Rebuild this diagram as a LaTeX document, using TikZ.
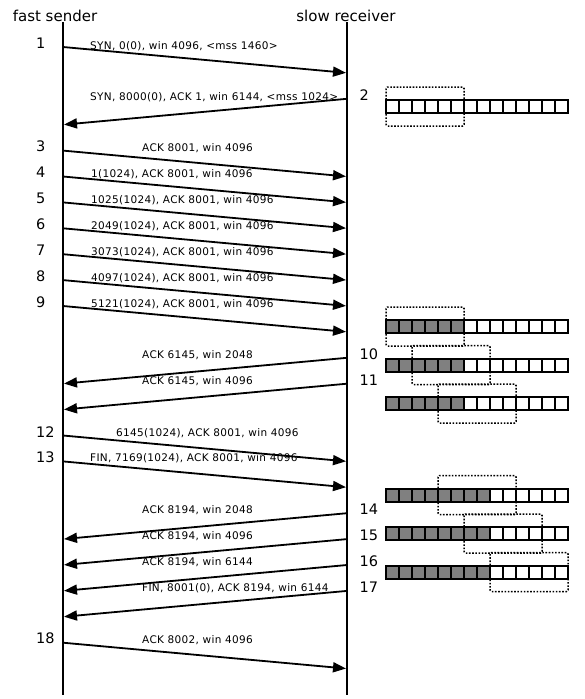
\documentclass[tikz,border=0pt]{standalone}
\usepackage{fontspec}
\setmainfont{DejaVu Sans}
\newfontfamily\msgfont[LetterSpace=3]{DejaVu Sans}
\usetikzlibrary{arrows.meta,calc}

\begin{document}
\begin{tikzpicture}[x=1pt,y=-1pt,
    lifeline/.style={line width=1.8pt},
    msg/.style={line width=1.8pt,shorten >=1pt,-{Triangle[length=13pt,width=10pt]}},
    msglabel/.style={font=\msgfont\fontsize{10.5}{12}\selectfont,inner sep=0pt,anchor=west},
    stepnum/.style={font=\fontsize{14.5}{17}\selectfont,inner sep=0pt,anchor=west},
    head/.style={font=\fontsize{15}{18}\selectfont,inner sep=0pt},
    cell/.style={draw,line width=1.5pt},
    window/.style={draw,line width=1.5pt,rounded corners=1.5pt,dash pattern=on 1.6pt off 1.6pt}]
  \useasboundingbox (0,0) rectangle (584,699);

  % headers
  \node[head] (sender) at (55,16) {fast sender};
  \node[head] (receiver) at (346,16) {slow receiver};

  % lifelines
  \coordinate (stop) at (63,22);
  \coordinate (sbot) at (63,695);
  \coordinate (rtop) at (347,22);
  \coordinate (rbot) at (347,695);
  \draw[lifeline] (stop) -- (sbot);
  \draw[lifeline] (rtop) -- (rbot);

  % time steps on both lifelines
  \foreach \t in {0,...,24} {
    \coordinate (S\t) at (63,{47+25.9*\t});
    \coordinate (R\t) at (347,{47+25.9*\t});
  }

  % connection setup
  \draw[msg] (S0) -- (R1);
  \node[msglabel] (m1) at (90,46) {SYN, 0(0), win 4096, <mss 1460>};
  \node[stepnum] (n1) at (36,43) {1};
  \draw[msg] (R2) -- (S3);
  \node[msglabel] (m2) at (90,97.5) {SYN, 8000(0), ACK 1, win 6144, <mss 1024>};
  \node[stepnum] (n2) at (359.5,95) {2};
  \draw[msg] (S4) -- (R5);
  \node[msglabel] (m3) at (142,148) {ACK 8001, win 4096};
  \node[stepnum] (n3) at (36,146.5) {3};

  % data segments
  \draw[msg] (S5) -- (R6);
  \node[msglabel] (m4) at (91,174) {1(1024), ACK 8001, win 4096};
  \node[stepnum] (n4) at (36,172.5) {4};
  \draw[msg] (S6) -- (R7);
  \node[msglabel] (m5) at (91,200) {1025(1024), ACK 8001, win 4096};
  \node[stepnum] (n5) at (36,198.5) {5};
  \draw[msg] (S7) -- (R8);
  \node[msglabel] (m6) at (91,226) {2049(1024), ACK 8001, win 4096};
  \node[stepnum] (n6) at (36,224.5) {6};
  \draw[msg] (S8) -- (R9);
  \node[msglabel] (m7) at (91,252) {3073(1024), ACK 8001, win 4096};
  \node[stepnum] (n7) at (36,250) {7};
  \draw[msg] (S9) -- (R10);
  \node[msglabel] (m8) at (91,278) {4097(1024), ACK 8001, win 4096};
  \node[stepnum] (n8) at (36,276) {8};
  \draw[msg] (S10) -- (R11);
  \node[msglabel] (m9) at (91,304) {5121(1024), ACK 8001, win 4096};
  \node[stepnum] (n9) at (36,302) {9};

  % window updates
  \draw[msg] (R12) -- (S13);
  \node[msglabel] (m10) at (142,355) {ACK 6145, win 2048};
  \node[stepnum] (n10) at (359.5,354) {10};
  \draw[msg] (R13) -- (S14);
  \node[msglabel] (m11) at (142,381.5) {ACK 6145, win 4096};
  \node[stepnum] (n11) at (359.5,380) {11};

  % last segments
  \draw[msg] (S15) -- (R16);
  \node[msglabel] (m12) at (116,433) {6145(1024), ACK 8001, win 4096};
  \node[stepnum] (n12) at (36,432) {12};
  \draw[msg] (S16) -- (R17);
  \node[msglabel] (m13) at (90,458.5) {FIN, 7169(1024), ACK 8001, win 4096};
  \node[stepnum] (n13) at (36,457.5) {13};

  % acks and close
  \draw[msg] (R18) -- (S19);
  \node[msglabel] (m14) at (142,510) {ACK 8194, win 2048};
  \node[stepnum] (n14) at (359.5,509) {14};
  \draw[msg] (R19) -- (S20);
  \node[msglabel] (m15) at (142,536) {ACK 8194, win 4096};
  \node[stepnum] (n15) at (359.5,535) {15};
  \draw[msg] (R20) -- (S21);
  \node[msglabel] (m16) at (142,562) {ACK 8194, win 6144};
  \node[stepnum] (n16) at (359.5,561) {16};
  \draw[msg] (R21) -- (S22);
  \node[msglabel] (m17) at (142,588) {FIN, 8001(0), ACK 8194, win 6144};
  \node[stepnum] (n17) at (359.5,587) {17};
  \draw[msg] (S23) -- (R24);
  \node[msglabel] (m18) at (142,640) {ACK 8002, win 4096};
  \node[stepnum] (n18) at (36,638.5) {18};

  % receive buffers: row centre / filled cells / window start
  \foreach \yc/\ngray/\wstart in {106.5/0/0, 326.5/6/0, 365/6/2, 403.5/6/4,
                                  495/8/4, 533.5/8/6, 572/8/8} {
    \fill[gray] (386,{\yc-6.5}) rectangle ({386+13*\ngray},{\yc+6.5});
    \foreach \i in {0,...,13}
      \draw[cell] ({386+13*\i},{\yc-6.5}) rectangle +(13,13);
    \draw[line width=2pt] (386,{\yc-6.5}) rectangle (568,{\yc+6.5});
    \draw[window] ({386+13*\wstart},{\yc-19.5}) rectangle +(78,39);
  }
\end{tikzpicture}
\end{document}
